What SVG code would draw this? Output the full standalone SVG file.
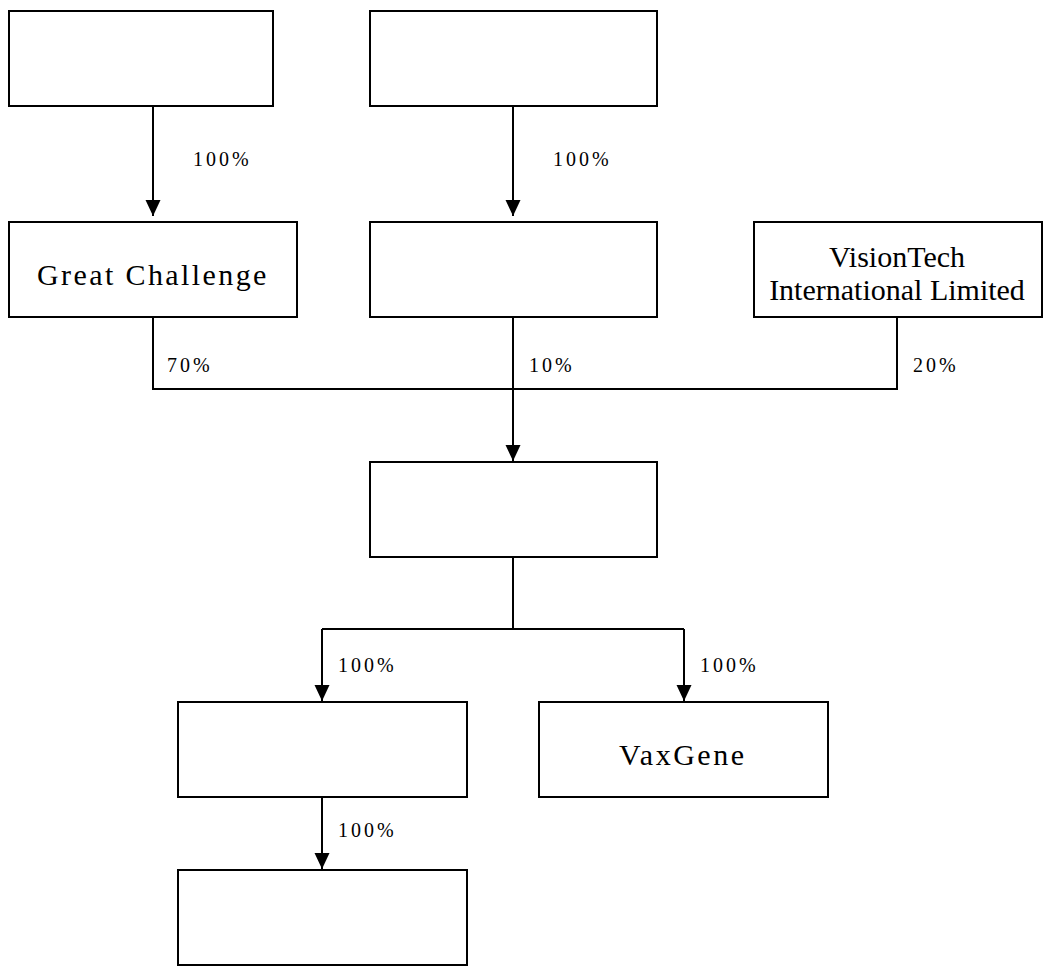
<svg xmlns="http://www.w3.org/2000/svg" width="1044" height="967" viewBox="0 0 1044 967">
<style>
.box{fill:#fff;stroke:#000;stroke-width:2}
.ln{fill:none;stroke:#000;stroke-width:2}
.nt{font-family:"Liberation Serif","Times New Roman",serif;font-size:30px;fill:#000}
.sp{letter-spacing:2.4px}
.pc{font-family:"Liberation Serif","Times New Roman",serif;font-size:20px;letter-spacing:3px;fill:#000}
</style>
<defs>
<marker id="ah" markerUnits="userSpaceOnUse" markerWidth="16" markerHeight="16" refX="16" refY="7.5" orient="auto">
<path d="M0,0 L16,7.5 L0,15 z" fill="#000"/>
</marker>
</defs>
<rect width="1044" height="967" fill="#fff"/>
<g id="connectors">
<path class="ln" d="M153,107 V216" marker-end="url(#ah)"/>
<path class="ln" d="M513,107 V216" marker-end="url(#ah)"/>
<path class="ln" d="M153,318 V389 H897 V318"/>
<path class="ln" d="M513,318 V461" marker-end="url(#ah)"/>
<path class="ln" d="M513,558 V629"/>
<path class="ln" d="M322,629 H684"/>
<path class="ln" d="M322,629 V701" marker-end="url(#ah)"/>
<path class="ln" d="M684,629 V701" marker-end="url(#ah)"/>
<path class="ln" d="M322,798 V869" marker-end="url(#ah)"/>
<text class="pc" x="193" y="166">100%</text>
<text class="pc" x="553" y="166">100%</text>
<text class="pc" x="167" y="372">70%</text>
<text class="pc" x="529" y="372">10%</text>
<text class="pc" x="913" y="372">20%</text>
<text class="pc" x="338" y="672">100%</text>
<text class="pc" x="700" y="672">100%</text>
<text class="pc" x="338" y="837">100%</text>
</g>
<g id="n1"><rect class="box" x="9" y="11" width="264" height="95"/></g>
<g id="n2"><rect class="box" x="370" y="11" width="287" height="95"/></g>
<g id="great-challenge"><rect class="box" x="9" y="222" width="288" height="95"/>
<text class="nt sp" x="37" y="285">Great Challenge</text></g>
<g id="n4"><rect class="box" x="370" y="222" width="287" height="95"/></g>
<g id="visiontech"><rect class="box" x="754" y="222" width="288" height="95"/>
<text class="nt" x="897" y="267" text-anchor="middle">VisionTech</text>
<text class="nt" x="897" y="300" text-anchor="middle">International Limited</text></g>
<g id="n6"><rect class="box" x="370" y="462" width="287" height="95"/></g>
<g id="n7"><rect class="box" x="178" y="702" width="289" height="95"/></g>
<g id="vaxgene"><rect class="box" x="539" y="702" width="289" height="95"/>
<text class="nt" x="619" y="765" style="letter-spacing:2.5px">VaxGene</text></g>
<g id="n9"><rect class="box" x="178" y="870" width="289" height="95"/></g>
</svg>
